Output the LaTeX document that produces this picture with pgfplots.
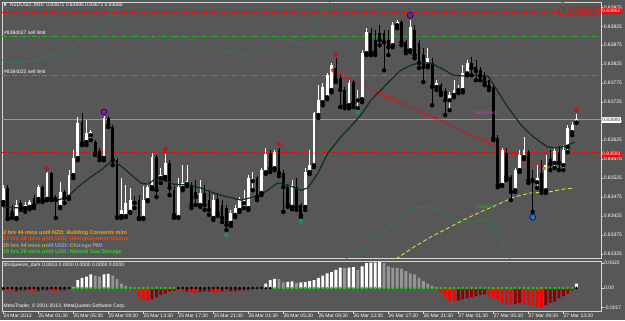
\documentclass[border=0pt]{standalone}
\usepackage{fontspec}
\setmainfont{Liberation Sans}
\newfontfamily\dejavu{DejaVu Sans}
\usepackage{pgfplots}
\usepackage{pgfplotstable}
\pgfplotsset{compat=1.18}
\definecolor{bg}{RGB}{87,87,87}
\definecolor{frame}{RGB}{215,215,215}
\definecolor{ma}{RGB}{12,50,25}
\definecolor{band}{RGB}{45,130,70}
\definecolor{gdash}{RGB}{40,180,40}
\definecolor{frred}{RGB}{175,30,30}
\definecolor{frgreen}{RGB}{40,140,80}
\definecolor{yel}{RGB}{225,215,50}
\definecolor{hgray}{RGB}{150,150,150}
\definecolor{sqgray}{RGB}{150,150,150}
\definecolor{dred}{RGB}{140,0,0}
\definecolor{sqgreen}{RGB}{0,230,0}
\definecolor{mag}{RGB}{235,40,235}
\newcommand\fs{\fontsize{5bp}{6bp}\selectfont}

\pgfplotstableread{
i O H L C
0 0.83462 0.83507 0.83454 0.83499
3 0.83420 0.83467 0.83417 0.83454
5 0.83446 0.83462 0.83436 0.83454
6 0.83449 0.83467 0.83443 0.83462
8 0.83470 0.83507 0.83464 0.83501
10 0.83470 0.83541 0.83467 0.83538
13 0.83449 0.83514 0.83446 0.83488
15 0.83475 0.83546 0.83470 0.83533
16 0.83533 0.83599 0.83525 0.83578
17 0.83578 0.83686 0.83572 0.83670
19 0.83620 0.83678 0.83612 0.83643
20 0.83638 0.83651 0.83625 0.83646
23 0.83578 0.83688 0.83572 0.83683
27 0.83425 0.83525 0.83420 0.83441
28 0.83425 0.83507 0.83422 0.83459
29 0.83436 0.83499 0.83433 0.83467
32 0.83420 0.83504 0.83417 0.83467
33 0.83467 0.83512 0.83464 0.83501
34 0.83501 0.83591 0.83496 0.83580
36 0.83525 0.83551 0.83512 0.83533
37 0.83528 0.83588 0.83522 0.83565
40 0.83422 0.83525 0.83420 0.83501
41 0.83499 0.83559 0.83493 0.83512
42 0.83509 0.83559 0.83504 0.83517
45 0.83454 0.83520 0.83449 0.83486
48 0.83420 0.83480 0.83415 0.83467
52 0.83407 0.83441 0.83399 0.83433
53 0.83428 0.83454 0.83422 0.83446
54 0.83441 0.83475 0.83436 0.83467
55 0.83459 0.83493 0.83446 0.83470
56 0.83446 0.83533 0.83441 0.83525
57 0.83517 0.83541 0.83493 0.83522
59 0.83486 0.83551 0.83480 0.83546
60 0.83541 0.83604 0.83536 0.83588
62 0.83551 0.83599 0.83546 0.83593
66 0.83449 0.83520 0.83443 0.83507
69 0.83449 0.83551 0.83441 0.83541
70 0.83541 0.83599 0.83536 0.83559
71 0.83559 0.83699 0.83554 0.83696
72 0.83691 0.83770 0.83683 0.83730
73 0.83725 0.83775 0.83717 0.83765
74 0.83738 0.83801 0.83733 0.83796
75 0.83757 0.83828 0.83751 0.83822
79 0.83717 0.83783 0.83709 0.83775
81 0.83730 0.83757 0.83709 0.83736
82 0.83733 0.83862 0.83725 0.83854
83 0.83854 0.83920 0.83849 0.83909
89 0.83875 0.83936 0.83870 0.83928
90 0.83928 0.83941 0.83920 0.83936
93 0.83862 0.83941 0.83857 0.83922
97 0.83822 0.83867 0.83817 0.83841
99 0.83765 0.83783 0.83757 0.83775
102 0.83730 0.83751 0.83704 0.83744
103 0.83744 0.83783 0.83738 0.83757
104 0.83757 0.83770 0.83749 0.83762
105 0.83757 0.83822 0.83751 0.83801
106 0.83801 0.83836 0.83796 0.83828
114 0.83507 0.83604 0.83504 0.83599
117 0.83493 0.83551 0.83488 0.83546
118 0.83546 0.83599 0.83541 0.83586
119 0.83580 0.83633 0.83575 0.83599
122 0.83514 0.83559 0.83499 0.83525
124 0.83493 0.83586 0.83486 0.83559
126 0.83565 0.83607 0.83551 0.83596
128 0.83559 0.83612 0.83546 0.83599
129 0.83607 0.83665 0.83593 0.83657
130 0.83646 0.83672 0.83638 0.83665
131 0.83671 0.83695 0.83671 0.83680
}\bull

\pgfplotstableread{
i O H L C
1 0.83499 0.83507 0.83417 0.83420
2 0.83441 0.83454 0.83420 0.83430
4 0.83459 0.83467 0.83441 0.83446
7 0.83472 0.83480 0.83446 0.83454
9 0.83501 0.83507 0.83462 0.83467
11 0.83538 0.83541 0.83467 0.83472
12 0.83475 0.83480 0.83420 0.83467
14 0.83488 0.83493 0.83459 0.83472
18 0.83672 0.83696 0.83612 0.83617
21 0.83620 0.83625 0.83586 0.83591
22 0.83596 0.83604 0.83572 0.83580
24 0.83683 0.83688 0.83659 0.83665
25 0.83659 0.83665 0.83559 0.83572
26 0.83572 0.83578 0.83420 0.83422
30 0.83464 0.83478 0.83446 0.83459
31 0.83467 0.83480 0.83417 0.83420
35 0.83580 0.83586 0.83475 0.83493
38 0.83565 0.83572 0.83480 0.83499
39 0.83493 0.83504 0.83420 0.83428
43 0.83507 0.83514 0.83446 0.83454
44 0.83488 0.83520 0.83454 0.83475
46 0.83486 0.83507 0.83441 0.83454
47 0.83467 0.83493 0.83428 0.83441
49 0.83470 0.83486 0.83425 0.83433
50 0.83454 0.83467 0.83409 0.83420
51 0.83446 0.83454 0.83388 0.83401
58 0.83525 0.83530 0.83467 0.83475
61 0.83591 0.83599 0.83541 0.83551
63 0.83599 0.83604 0.83530 0.83538
64 0.83538 0.83546 0.83436 0.83501
65 0.83501 0.83507 0.83449 0.83454
67 0.83501 0.83525 0.83441 0.83449
68 0.83454 0.83459 0.83422 0.83428
76 0.83815 0.83841 0.83778 0.83783
77 0.83788 0.83796 0.83712 0.83757
78 0.83757 0.83765 0.83709 0.83717
80 0.83778 0.83783 0.83712 0.83722
84 0.83907 0.83920 0.83849 0.83854
85 0.83888 0.83915 0.83849 0.83857
86 0.83907 0.83928 0.83875 0.83888
87 0.83907 0.83915 0.83809 0.83883
88 0.83888 0.83915 0.83849 0.83870
91 0.83936 0.83941 0.83875 0.83883
92 0.83883 0.83888 0.83854 0.83862
94 0.83915 0.83928 0.83841 0.83849
95 0.83880 0.83888 0.83815 0.83828
96 0.83849 0.83867 0.83778 0.83817
98 0.83828 0.83841 0.83717 0.83765
100 0.83770 0.83775 0.83744 0.83751
101 0.83754 0.83762 0.83691 0.83730
107 0.83828 0.83844 0.83796 0.83815
108 0.83817 0.83836 0.83783 0.83807
109 0.83809 0.83817 0.83783 0.83794
110 0.83796 0.83804 0.83770 0.83778
111 0.83783 0.83791 0.83757 0.83765
112 0.83765 0.83770 0.83625 0.83630
113 0.83630 0.83638 0.83501 0.83507
115 0.83591 0.83604 0.83520 0.83528
116 0.83528 0.83533 0.83467 0.83488
120 0.83593 0.83599 0.83512 0.83520
121 0.83525 0.83546 0.83436 0.83517
123 0.83538 0.83572 0.83486 0.83493
125 0.83575 0.83599 0.83546 0.83562
127 0.83593 0.83609 0.83546 0.83565
}\bear

\begin{document}
\begin{tikzpicture}[x=1bp,y=1bp]
\useasboundingbox (0,0) rectangle (625,-320);
\fill[bg] (0,0) rectangle (625,-320);

\begin{axis}[
  at={(2bp,-2bp)}, anchor=north west, scale only axis,
  width=599bp, height=256bp,
  xmin=-0.3, xmax=136.6, ymin=0.833144, ymax=0.83989,
  axis line style={frame, line width=0.6bp},
  scaled y ticks=false,
  xtick=\empty,
  ytick={0.83325,0.83375,0.83425,0.83475,0.83525,0.83575,0.83625,0.83675,0.83725,0.83775,0.83825,0.83875,0.83925,0.83975},
  yticklabels={0.83325,0.83375,0.83425,0.83475,0.83525,0.83575,0.83625,0.83675,0.83725,0.83775,0.83825,0.83875,0.83925,0.83975},
  ytick pos=right, yticklabel pos=right, tick align=outside, major tick length=2bp,
  tick style={frame, line width=0.4bp},
  yticklabel style={font=\fs, text=white, inner sep=0.6bp},
]
% horizontal levels
\addplot[gdash, line width=0.9bp, dash pattern=on 5bp off 2bp on 1bp off 2bp, forget plot] coordinates {(-0.3,0.83899) (136.6,0.83899)};
\addplot[gdash, line width=0.9bp, dash pattern=on 5bp off 2bp on 1bp off 2bp, forget plot] coordinates {(-0.3,0.83796) (136.6,0.83796)};
\addplot[red, line width=0.8bp, dash pattern=on 5bp off 2bp on 1bp off 2bp, forget plot] coordinates {(-0.3,0.83962) (126.9,0.83962)};
\addplot[red, line width=0.8bp, dash pattern=on 5bp off 2bp on 1bp off 2bp, forget plot] coordinates {(-0.3,0.83593) (136.6,0.83593)};
\addplot[hgray, line width=0.8bp, forget plot] coordinates {(-0.3,0.83680) (136.6,0.83680)};
% bands
\addplot[band, line width=0.6bp, forget plot] coordinates {(-0.3,0.83836) (1.7,0.83828) (4,0.83830) (6.3,0.83833) (8.5,0.83838) (10.8,0.83849) (13.1,0.83854) (15.4,0.83862) (17.7,0.83893) (20,0.83915) (22.3,0.83933) (24.5,0.83954) (25.7,0.83954) (26.8,0.83946) (28.4,0.83922) (29.8,0.83907) (32.1,0.83893) (34.4,0.83896) (36.7,0.83904) (39,0.83896) (42.1,0.83893) (45.1,0.83886) (48.1,0.83875) (51.3,0.83857) (54.3,0.83849) (57.2,0.83857) (60.4,0.83875) (63.4,0.83893) (65.7,0.83888) (68,0.83878) (69.6,0.83883) (70.9,0.83915) (73.2,0.83959) (74.8,0.83993) (76,0.84015)};
\addplot[band, line width=0.6bp, forget plot] coordinates {(124.6,0.84000) (127.3,0.83990) (128.5,0.83985)};
\addplot[band, line width=0.6bp, forget plot] coordinates {(76.5,0.83300) (81.7,0.83335) (84.4,0.83362) (86.3,0.83378) (90.2,0.83415) (93.8,0.83446) (97.7,0.83449) (101.6,0.83428) (103.9,0.83407) (106.2,0.83409) (109.1,0.83415) (110.7,0.83412) (112.5,0.83388) (114.1,0.83357) (115.6,0.83317) (116.4,0.83296)};
% daily S1 dashed
\addplot[yel, line width=0.9bp, dash pattern=on 4bp off 2.5bp, forget plot] coordinates {(89.7,0.83312) (90.4,0.83317) (93.8,0.83343) (97.7,0.83370) (101.6,0.83393) (105.2,0.83415) (109.1,0.83436) (113.7,0.83459) (116.7,0.83475) (120.5,0.83486) (124.4,0.83488) (128.1,0.83496) (130.6,0.83499)};
% red dotted trend lines
\addplot[red, line width=0.8bp, dash pattern=on 1bp off 1.3bp, forget plot] coordinates {(75.5,0.83809) (124.4,0.83546)};
\addplot[red, line width=0.8bp, dash pattern=on 1bp off 1.3bp, forget plot] coordinates {(76.5,0.83796) (124.4,0.83546)};
% candle wicks
\addplot[only marks, mark=none, forget plot, error bars/.cd, y dir=plus, y explicit, error mark=none, error bar style={white, line width=0.7bp}] table[x=i, y=L, y error plus expr=\thisrow{H}-\thisrow{L}] {\bull};
\addplot[only marks, mark=none, forget plot, error bars/.cd, y dir=plus, y explicit, error mark=none, error bar style={black, line width=0.7bp}] table[x=i, y=L, y error plus expr=\thisrow{H}-\thisrow{L}] {\bear};
% candle bodies
\addplot[only marks, mark=none, forget plot, error bars/.cd, y dir=plus, y explicit, error mark=none, error bar style={white, line width=2.8bp}] table[x=i, y=O, y error plus expr=\thisrow{C}-\thisrow{O}] {\bull};
\addplot[only marks, mark=none, forget plot, error bars/.cd, y dir=plus, y explicit, error mark=none, error bar style={black, line width=2.8bp}] table[x=i, y=C, y error plus expr=\thisrow{O}-\thisrow{C}] {\bear};
% moving average
\addplot[ma, line width=1.2bp, forget plot] coordinates {(0,0.83449) (4,0.83446) (7,0.83454) (9.2,0.83464) (12.4,0.83467) (14.7,0.83475) (17,0.83501) (20,0.83528) (22.3,0.83546) (25,0.83572) (25.7,0.83567) (27.5,0.83551) (29.8,0.83528) (31.4,0.83512) (33,0.83509) (34.4,0.83520) (36.7,0.83520) (38.9,0.83509) (42.1,0.83507) (45.1,0.83499) (48.1,0.83486) (49.7,0.83480) (54.3,0.83467) (58.8,0.83480) (62.7,0.83512) (65,0.83507) (68,0.83493) (69.6,0.83499) (71.9,0.83538) (74.2,0.83591) (77.1,0.83633) (80.1,0.83670) (81.7,0.83691) (84,0.83730) (86.3,0.83757) (88.5,0.83783) (90.8,0.83809) (93.1,0.83822) (95.4,0.83830) (97.7,0.83828) (100,0.83815) (102.9,0.83796) (105.2,0.83794) (108.4,0.83796) (110.7,0.83794) (112.1,0.83770) (115.3,0.83712) (118.3,0.83665) (121.2,0.83633) (124.4,0.83607) (126.7,0.83604) (129,0.83612) (130.6,0.83620)};
% fractals
\addplot[only marks, mark=*, mark size=2.2bp, mark options={draw=frred, fill=frred}, forget plot] coordinates {(10,0.83551) (37,0.83601) (63,0.83614) (76,0.83851) (131,0.83705) (23,0.83699) (93,0.83954)};
\addplot[only marks, mark=*, mark size=2.2bp, mark options={draw=frgreen, fill=frgreen}, forget plot] coordinates {(51,0.83375) (68,0.83412) (81,0.83699) (121,0.83422)};
\addplot[only marks, mark=o, mark size=3bp, mark options={draw=blue, line width=0.8bp}, forget plot] coordinates {(23,0.83699) (93,0.83954) (121,0.83422)};
\addplot[only marks, mark=asterisk, mark size=2bp, mark options={draw=red, line width=0.7bp}, forget plot] coordinates {(75.3,0.83809)};
\addplot[only marks, mark=square*, mark size=1bp, mark options={draw=orange, fill=orange}, forget plot] coordinates {(123.7,0.83551)};
\end{axis}

\begin{axis}[
  at={(2bp,-261bp)}, anchor=north west, scale only axis,
  width=599bp, height=50bp,
  xmin=-0.3, xmax=136.6, ymin=-0.00202, ymax=0.00238,
  axis line style={frame, line width=0.6bp},
  scaled y ticks=false, scaled x ticks=false,
  xtick={0,8,16,24,32,40,48,56,64,72,80,88,96,104,112,120,128},
  xticklabels={24 Mar 2013,25 Mar 01:30,25 Mar 05:30,25 Mar 09:30,25 Mar 13:30,25 Mar 17:30,25 Mar 21:30,26 Mar 01:30,26 Mar 05:30,26 Mar 09:30,26 Mar 13:30,26 Mar 17:30,26 Mar 21:30,27 Mar 01:30,27 Mar 05:30,27 Mar 09:30,27 Mar 13:30},
  xtick pos=left, ytick pos=right, yticklabel pos=right,
  tick align=outside, major tick length=2.5bp,
  tick style={frame, line width=0.4bp},
  xticklabel style={font=\fs, text=white, anchor=north west, inner sep=0.5bp, xshift=-0.5bp},
  ytick={-0.0017,0,0.0022}, yticklabels={-0.0017,0.00,0.0022},
  yticklabel style={font=\fs, text=white, inner sep=0.6bp},
]
\addplot[ybar, bar width=2.8bp, bar shift=0pt, fill=white, draw=none, forget plot] coordinates {(16,0.0001) (17,0.0007) (18,0.0009) (19,0.0010) (20,0.0012) (23,0.0012) (24,0.00125) (60,0.0004) (61,0.0007) (62,0.0008) (65,0.00055) (66,0.00058) (68,0.0005) (69,0.00053) (70,0.0006) (71,0.0007) (72,0.0009) (73,0.0011) (74,0.0013) (75,0.0014) (76,0.0016) (77,0.0018) (79,0.0018) (80,0.00185) (82,0.0019) (83,0.0022) (84,0.00223) (85,0.00225) (86,0.0023) (131,0.0004)};
\addplot[ybar, bar width=2.8bp, bar shift=0pt, fill=sqgray, draw=none, forget plot] coordinates {(21,0.0011) (22,0.0010) (25,0.0011) (26,0.0008) (27,0.0004) (28,0.0002) (29,0.00005) (63,0.00078) (64,0.0005) (67,0.00045) (78,0.00175) (81,0.0016) (87,0.0022) (88,0.0019) (89,0.0018) (90,0.00178) (91,0.0017) (92,0.0015) (93,0.0013) (94,0.0012) (95,0.0009) (96,0.0006) (97,0.0004) (98,0.0002) (99,0.00005)};
\addplot[ybar, bar width=2.8bp, bar shift=0pt, fill=red, draw=none, forget plot] coordinates {(1,-0.0002) (2,-0.0003) (6,-0.0002) (7,-0.0003) (11,-0.0002) (12,-0.0003) (30,-0.0003) (31,-0.0008) (32,-0.0010) (33,-0.0011) (40,-0.0003) (41,-0.00035) (43,-0.00035) (44,-0.0004) (48,-0.00035) (49,-0.0004) (51,-0.00035) (100,-0.0004) (101,-0.0008) (102,-0.0011) (103,-0.00115) (111,-0.0007) (112,-0.0008) (113,-0.0010) (114,-0.0013) (115,-0.0014) (116,-0.0015) (119,-0.0014) (120,-0.0015) (121,-0.0016) (122,-0.00165) (123,-0.0017)};
\addplot[ybar, bar width=2.8bp, bar shift=0pt, fill=dred, draw=none, forget plot] coordinates {(0,-0.0002) (3,-0.0003) (4,-0.0002) (5,-0.0002) (8,-0.0003) (9,-0.0002) (10,-0.0002) (13,-0.0002) (14,-0.0002) (15,-0.0001) (34,-0.0010) (35,-0.0008) (36,-0.0006) (37,-0.0005) (38,-0.0003) (39,-0.00025) (42,-0.0003) (45,-0.00035) (46,-0.0003) (47,-0.0003) (50,-0.0003) (52,-0.0003) (53,-0.00025) (54,-0.0002) (55,-0.0002) (56,-0.00015) (57,-0.0001) (58,-0.00005) (104,-0.0011) (105,-0.0010) (106,-0.0009) (107,-0.0008) (108,-0.0007) (109,-0.0006) (110,-0.00055) (117,-0.0014) (118,-0.0013) (124,-0.0015) (125,-0.0013) (126,-0.0012) (127,-0.0009) (128,-0.0007) (129,-0.0005) (130,-0.0002)};
\addplot[only marks, mark=*, mark size=1.1bp, mark options={draw=black, fill=black}, forget plot] coordinates {(0,0) (1,0) (2,0) (3,0) (4,0) (5,0) (6,0) (7,0) (8,0) (9,0) (10,0) (11,0) (12,0) (13,0) (14,0) (15,0) (40,0) (41,0) (42,0) (43,0) (44,0) (45,0) (46,0) (47,0) (48,0) (49,0) (50,0) (51,0) (52,0) (53,0) (54,0) (55,0) (56,0) (57,0) (58,0) (59,0) (60,0) (61,0) (131,0)};
\addplot[only marks, mark=*, mark size=1.1bp, mark options={draw=sqgreen, fill=sqgreen}, forget plot] coordinates {(16,0) (17,0) (18,0) (19,0) (20,0) (21,0) (22,0) (23,0) (24,0) (25,0) (26,0) (27,0) (28,0) (29,0) (30,0) (31,0) (32,0) (33,0) (34,0) (35,0) (36,0) (37,0) (38,0) (39,0) (62,0) (63,0) (64,0) (65,0) (66,0) (67,0) (68,0) (69,0) (70,0) (71,0) (72,0) (73,0) (74,0) (75,0) (76,0) (77,0) (78,0) (79,0) (80,0) (81,0) (82,0) (83,0) (84,0) (85,0) (86,0) (87,0) (88,0) (89,0) (90,0) (91,0) (92,0) (93,0) (94,0) (95,0) (96,0) (97,0) (98,0) (99,0) (100,0) (101,0) (102,0) (103,0) (104,0) (105,0) (106,0) (107,0) (108,0) (109,0) (110,0) (111,0) (112,0) (113,0) (114,0) (115,0) (116,0) (117,0) (118,0) (119,0) (120,0) (121,0) (122,0) (123,0) (124,0) (125,0) (126,0) (127,0) (128,0) (129,0) (130,0)};
\end{axis}

% texts
\node[anchor=west, text=white, font=\dejavu\fontsize{4bp}{5bp}\selectfont, inner sep=0] at (3.5bp,-5.5bp) {▼};
\node[anchor=west, text=white, font=\fs, inner sep=0] at (10bp,-5.5bp) {NZDUSD.,M30\ \ 0.83671 0.83695 0.83671 0.83680};
\node[anchor=west, text=white, font=\fs, inner sep=0] at (4bp,-33bp) {\#8384027 sell limit};
\node[anchor=west, text=white, font=\fs, inner sep=0] at (4bp,-72bp) {\#8384025 sell limit};
\node[anchor=west, text=red, font=\fontsize{12bp}{12bp}\selectfont, inner sep=0] at (558bp,-11bp) {0.83680};
\node[anchor=west, text=mag, font=\fs, inner sep=0] at (474bp,-113bp) {Daily Pivot};
\node[anchor=west, text=gdash, font=\fs, inner sep=0] at (477bp,-207bp) {Daily S1};
\node[anchor=west, fill=red, text=white, font=\fs, inner sep=0.6bp, minimum height=6bp] at (601.5bp,-11bp) {0.83962};
\node[anchor=west, fill=red, text=white, font=\fs, inner sep=0.6bp, minimum height=6bp] at (601.5bp,-154bp) {0.83593};
\node[anchor=west, fill=white, text=black!75, font=\fs, inner sep=0.6bp, minimum height=6bp] at (601.5bp,-120bp) {0.83680};
\node[anchor=west, text={rgb,255:red,255;green,165;blue,0}, font=\fontsize{5.4bp}{6bp}\selectfont\bfseries, inner sep=0] at (3bp,-233bp) {2 hrs 44 mins until NZD: Building Consents m/m};
\node[anchor=west, text={rgb,255:red,255;green,69;blue,0}, font=\fontsize{5.4bp}{6bp}\selectfont\bfseries, inner sep=0] at (3bp,-239.5bp) {17 hrs 29 mins until USD: Unemployment Claims};
\node[anchor=west, text={rgb,255:red,230;green,190;blue,0}, font=\fontsize{5.4bp}{6bp}\selectfont\bfseries, inner sep=0] at (3bp,-246bp) {18 hrs 44 mins until USD: Chicago PMI};
\node[anchor=west, text={rgb,255:red,65;green,105;blue,225}, opacity=0.8, font=\fontsize{5.4bp}{6bp}\selectfont\bfseries, inner sep=0] at (3.8bp,-246.6bp) {18 hrs 44 mins until USD: Chicago PMI};
\node[anchor=west, text={rgb,255:red,50;green,205;blue,50}, font=\fontsize{5.4bp}{6bp}\selectfont\bfseries, inner sep=0] at (3bp,-252.5bp) {19 hrs 29 mins until USD: Natural Gas Storage};
\node[anchor=west, text=white, font=\fs, inner sep=0] at (3.5bp,-265bp) {bbsqueeze\_dark 0.0003 0.0000 0.0000 0.0000 0.0000};
\node[anchor=west, text=white, font=\fs, inner sep=0] at (3.5bp,-306bp) {MetaTrader, © 2001-2013, MetaQuotes Software Corp.};
\end{tikzpicture}
\end{document}
